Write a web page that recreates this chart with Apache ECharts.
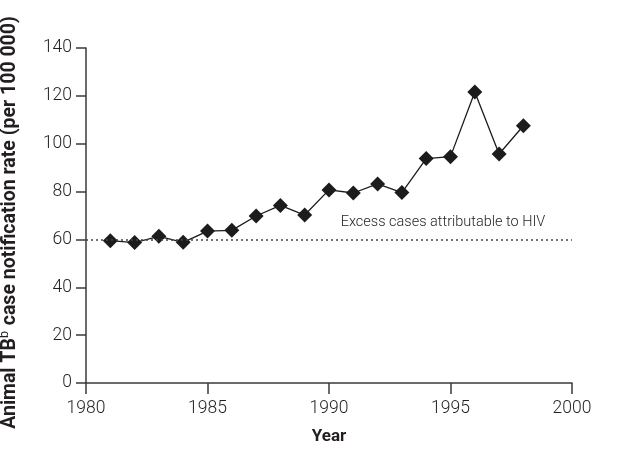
<!DOCTYPE html>
<html>
<head>
<meta charset="utf-8">
<script src="https://cdn.jsdelivr.net/npm/echarts@6/dist/echarts.min.js"></script>
<style>html,body{margin:0;padding:0;background:#fff}#c{width:618px;height:449px}</style>
</head>
<body>
<div id="c"></div>
<script>
const years = [1981,1982,1983,1984,1985,1986,1987,1988,1989,1990,1991,1992,1993,1994,1995,1996,1997,1998];
const rates = [59.5,58.7,61.3,58.8,63.5,63.8,69.8,74.2,70.2,80.7,79.4,83.2,79.6,93.8,94.6,121.6,95.7,107.5];
const thresholdValue = 60;
const thresholdLabel = 'Excess cases attributable to HIV';
const xTicks = [1980,1985,1990,1995,2000];
const yTicks = [0,20,40,60,80,100,120,140];

const FONT = 'Roboto, "Open Sans", sans-serif';
const TXT = '#231f20';
const chart = echarts.init(document.getElementById('c'));
chart.setOption({
  animation: false,
  backgroundColor: '#fff',
  grid: {left: 86, right: 46, top: 48, bottom: 66, outerBoundsMode: 'none', containLabel: false},
  xAxis: {
    type: 'value', min: xTicks[0], max: xTicks[xTicks.length-1], interval: 5,
    name: 'Year', nameLocation: 'middle', nameGap: 45,
    nameTextStyle: {fontFamily: FONT, fontSize: 17, fontWeight: 'bold', color: TXT},
    axisLine: {lineStyle: {color: '#3a3a3a', width: 1.5}},
    axisTick: {show: true, length: 11, lineStyle: {color: '#3a3a3a', width: 1.5}},
    axisLabel: {fontFamily: FONT, fontSize: 17.5, fontWeight: 300, color: TXT, margin: 17, formatter: v => String(v)},
    splitLine: {show: false}
  },
  yAxis: {
    type: 'value', min: yTicks[0], max: yTicks[yTicks.length-1], interval: 20,
    name: '{n|Animal TB}{s|b}{n| case notification rate (per 100 000)}',
    nameLocation: 'middle', nameGap: 64, nameRotate: 90,
    nameTextStyle: {
      fontFamily: FONT, fontWeight: 'bold', color: TXT, padding: [0, 14, 0, 0],
      rich: {
        n: {fontFamily: FONT, fontSize: 19.5, fontWeight: 'bold', color: TXT},
        s: {fontFamily: FONT, fontSize: 12.5, fontWeight: 'normal', color: TXT, verticalAlign: 'top', padding: [0,1,11,0]}
      }
    },
    axisLine: {show: true, lineStyle: {color: '#3a3a3a', width: 1.5}},
    axisTick: {show: true, length: 10, lineStyle: {color: '#3a3a3a', width: 1.5}},
    axisLabel: {fontFamily: FONT, fontSize: 17.5, fontWeight: 300, color: TXT, margin: 14},
    splitLine: {show: false}
  },
  series: [{
    type: 'line',
    data: years.map((y, i) => [y, rates[i]]),
    symbol: 'diamond', symbolSize: 15,
    itemStyle: {color: '#1c1c1c'},
    lineStyle: {color: '#1c1c1c', width: 1.3},
    z: 3,
    markLine: {
      silent: true, symbol: 'none',
      lineStyle: {color: '#444', type: [2, 3], width: 1.5},
      label: {
        show: true, position: 'insideMiddleTop', formatter: thresholdLabel,
        fontFamily: FONT, fontSize: 14.5, fontWeight: 300, color: TXT, offset: [114, -5]
      },
      data: [{yAxis: thresholdValue}]
    }
  }]
});
</script>
</body>
</html>
